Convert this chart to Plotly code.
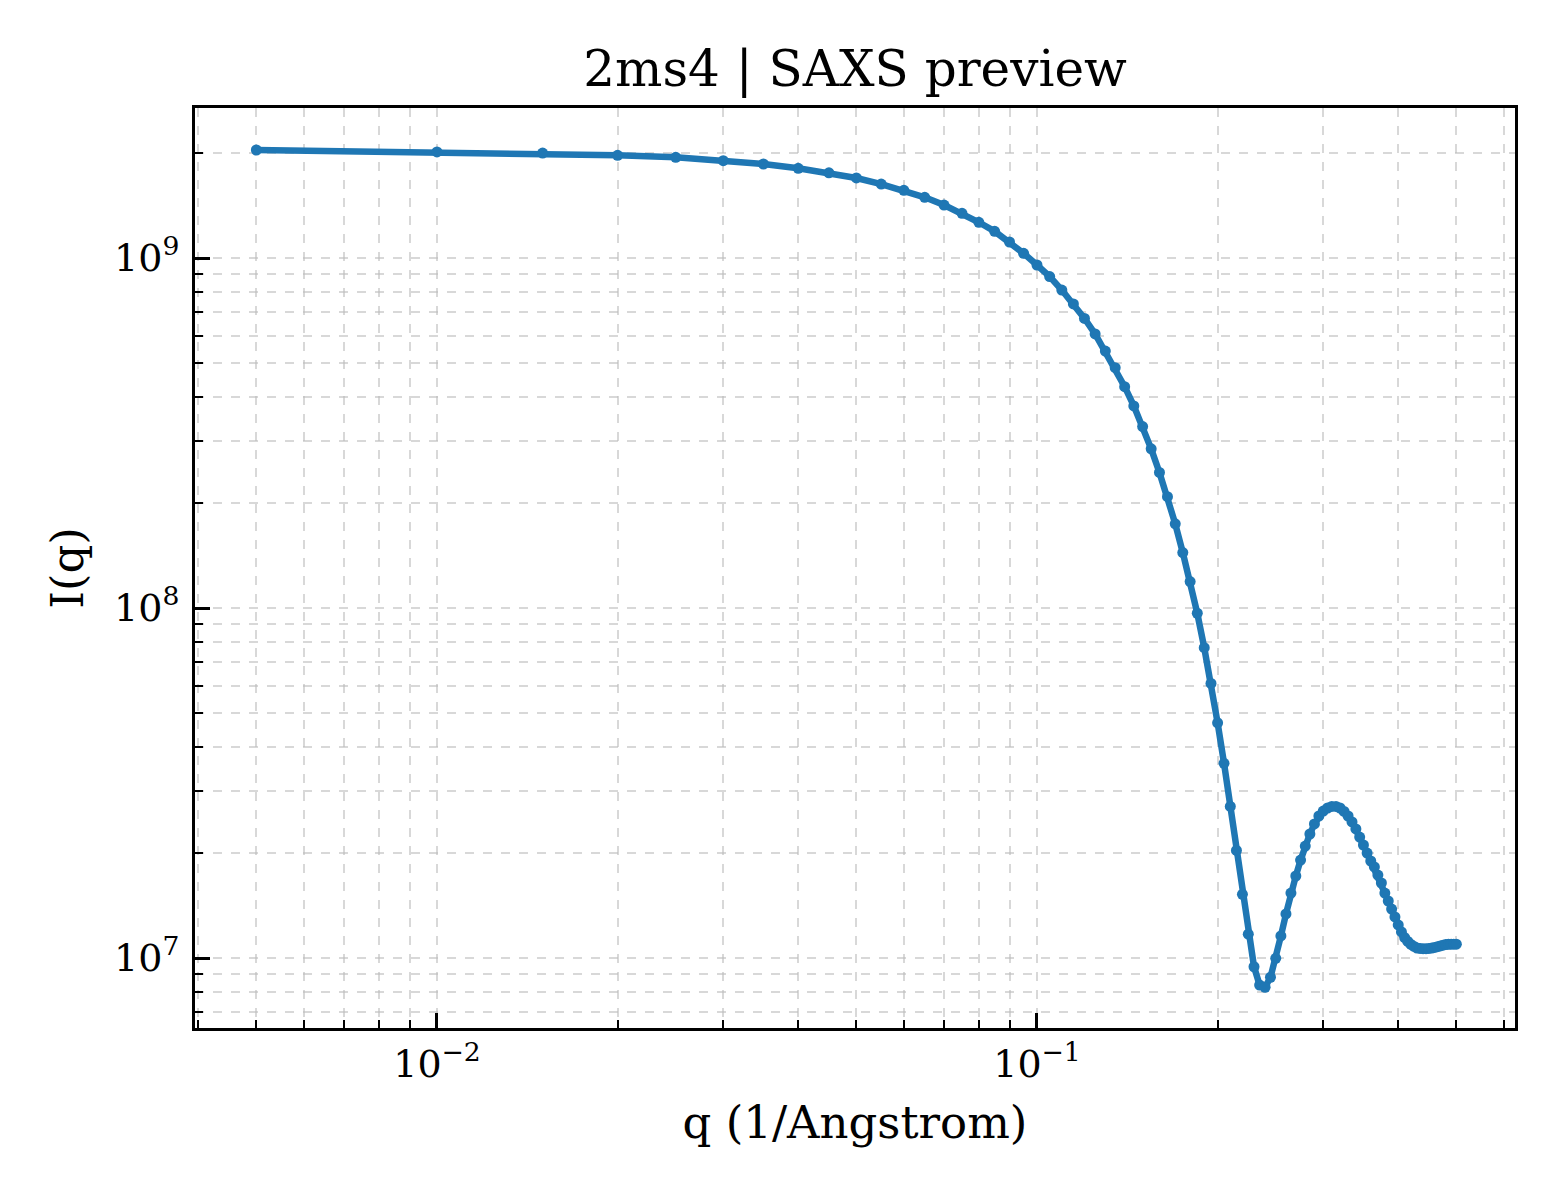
import plotly.graph_objects as go

# scattering vector (1/Angstrom)
q = [0.005, 0.010, 0.015, 0.020, 0.025, 0.030, 0.035, 0.040, 0.045, 0.050,
     0.055, 0.060, 0.065, 0.070, 0.075, 0.080, 0.085, 0.090, 0.095, 0.100,
     0.105, 0.110, 0.115, 0.120, 0.125, 0.130, 0.135, 0.140, 0.145, 0.150,
     0.155, 0.160, 0.165, 0.170, 0.175, 0.180, 0.185, 0.190, 0.195, 0.200,
     0.205, 0.210, 0.215, 0.220, 0.225, 0.230, 0.235, 0.240, 0.245, 0.250,
     0.255, 0.260, 0.265, 0.270, 0.275, 0.280, 0.285, 0.290, 0.295, 0.300,
     0.305, 0.310, 0.315, 0.320, 0.325, 0.330, 0.335, 0.340, 0.345, 0.350,
     0.355, 0.360, 0.365, 0.370, 0.375, 0.380, 0.385, 0.390, 0.395, 0.400,
     0.405, 0.410, 0.415, 0.420, 0.425, 0.430, 0.435, 0.440, 0.445, 0.450,
     0.455, 0.460, 0.465, 0.470, 0.475, 0.480, 0.485, 0.490, 0.495, 0.500]

# intensity I(q)
intensity = [2.035e9, 2.009e9, 1.995e9, 1.965e9, 1.940e9, 1.897e9, 1.856e9, 1.804e9, 1.752e9, 1.693e9,
             1.627e9, 1.561e9, 1.491e9, 1.417e9, 1.342e9, 1.265e9, 1.192e9, 1.111e9, 1.031e9, 9.55e8,
             8.85e8, 8.10e8, 7.39e8, 6.72e8, 6.07e8, 5.42e8, 4.86e8, 4.29e8, 3.78e8, 3.30e8,
             2.85e8, 2.44e8, 2.08e8, 1.74e8, 1.44e8, 1.19e8, 9.66e7, 7.70e7, 6.09e7, 4.70e7,
             3.60e7, 2.71e7, 2.03e7, 1.52e7, 1.17e7, 9.44e6, 8.37e6, 8.25e6, 8.81e6, 9.98e6,
             1.156e7, 1.336e7, 1.533e7, 1.715e7, 1.905e7, 2.089e7, 2.261e7, 2.415e7, 2.545e7, 2.630e7,
             2.683e7, 2.710e7, 2.710e7, 2.683e7, 2.622e7, 2.545e7, 2.447e7, 2.337e7, 2.216e7, 2.103e7,
             1.995e7, 1.893e7, 1.820e7, 1.726e7, 1.638e7, 1.533e7, 1.455e7, 1.380e7, 1.310e7, 1.243e7,
             1.187e7, 1.144e7, 1.115e7, 1.093e7, 1.079e7, 1.068e7, 1.065e7, 1.063e7, 1.063e7, 1.065e7,
             1.068e7, 1.072e7, 1.077e7, 1.083e7, 1.088e7, 1.092e7, 1.094e7, 1.095e7, 1.095e7, 1.095e7]

x_major = [0.01, 0.1]
x_major_text = ["10<sup>−2</sup>", "10<sup>−1</sup>"]
x_minor = [0.004, 0.005, 0.006, 0.007, 0.008, 0.009,
           0.02, 0.03, 0.04, 0.05, 0.06, 0.07, 0.08, 0.09,
           0.2, 0.3, 0.4, 0.5, 0.6]
y_major = [1e7, 1e8, 1e9]
y_major_text = ["10<sup>7</sup>", "10<sup>8</sup>", "10<sup>9</sup>"]
y_minor = [7e6, 8e6, 9e6,
           2e7, 3e7, 4e7, 5e7, 6e7, 7e7, 8e7, 9e7,
           2e8, 3e8, 4e8, 5e8, 6e8, 7e8, 8e8, 9e8,
           2e9]

FONT = "DejaVu Serif"
GRID = "rgba(190,190,190,0.6)"

# page body has an 8px margin, so the figure is 8px smaller than the window
W, H = 1552, 1192

fig = go.Figure()
fig.add_trace(go.Scatter(x=q, y=intensity, mode="lines+markers",
                         line=dict(color="#1f77b4", width=6.5),
                         marker=dict(color="#1f77b4", size=11),
                         showlegend=False))

axis_common = dict(
    type="log",
    showline=True, linecolor="black", linewidth=3, mirror=True,
    ticks="inside", ticklen=15, tickwidth=3, tickcolor="black",
    tickfont=dict(family=FONT, size=38, color="black"),
    showgrid=True, gridcolor=GRID, gridwidth=1.5, griddash="dash",
    zeroline=False,
)

fig.update_xaxes(
    **axis_common,
    range=[-2.4033, -0.2033],
    tickmode="array", tickvals=x_major, ticktext=x_major_text,
    minor=dict(tickmode="array", tickvals=x_minor, ticks="inside", ticklen=8,
               tickwidth=2, tickcolor="black", showgrid=True,
               gridcolor=GRID, gridwidth=1.5, griddash="dash"),
    title=dict(text="q (1/Angstrom)", font=dict(family=FONT, size=45, color="black"),
               standoff=22),
)
fig.update_yaxes(
    **axis_common,
    range=[6.8, 9.4286],
    tickmode="array", tickvals=y_major, ticktext=y_major_text,
    ticklabelstandoff=5,
    minor=dict(tickmode="array", tickvals=y_minor, ticks="inside", ticklen=8,
               tickwidth=2, tickcolor="black", showgrid=True,
               gridcolor=GRID, gridwidth=1.5, griddash="dash"),
    title=dict(text="I(q)", font=dict(family=FONT, size=45, color="black"),
               standoff=17),
)

fig.update_layout(
    width=W, height=H,
    paper_bgcolor="white", plot_bgcolor="white",
    margin=dict(l=187, r=45, t=100, b=172),
    title=dict(text="2ms4 | SAXS preview", x=0.5, xref="paper",
               y=1 - 60 / H, yref="container", yanchor="middle",
               font=dict(family=FONT, size=50, color="black")),
)

fig.write_html("out.html")
